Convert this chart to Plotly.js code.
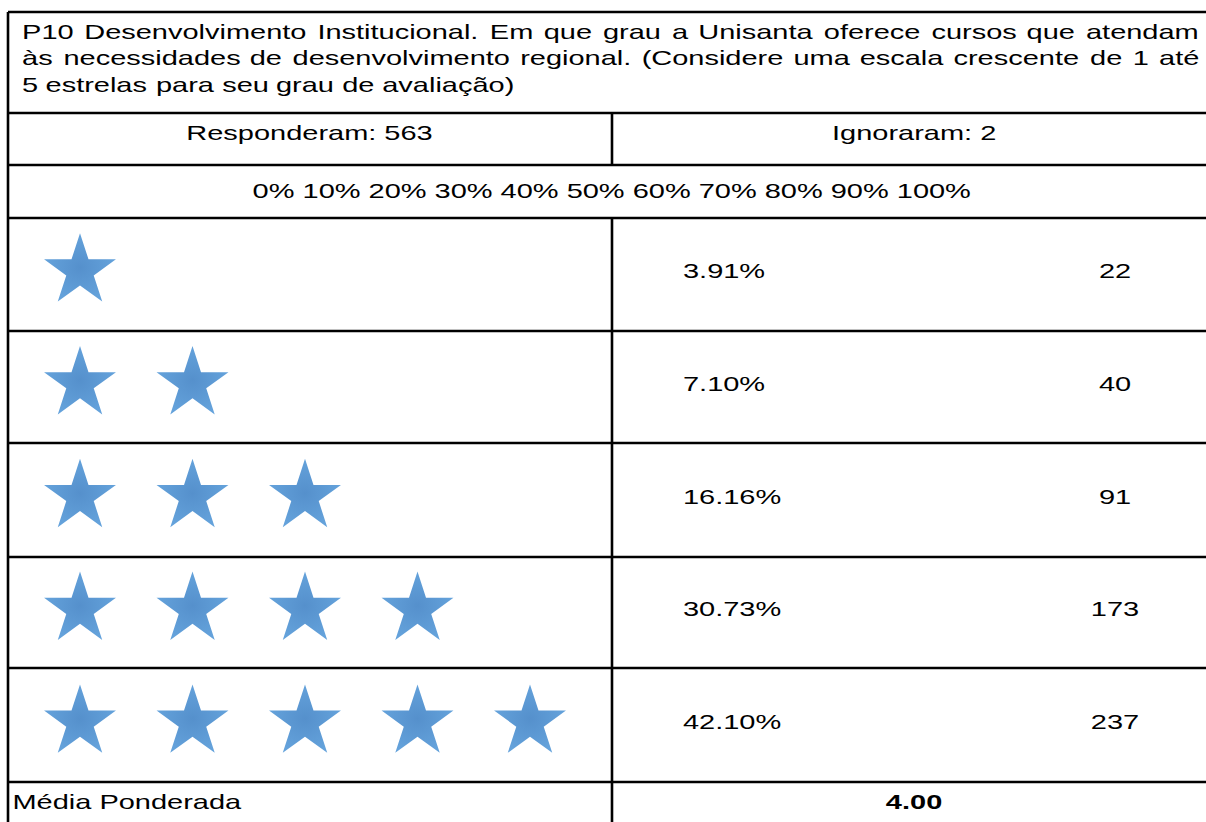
<!DOCTYPE html>
<html>
<head>
<meta charset="utf-8">
<script src="https://cdn.plot.ly/plotly-3.0.1.min.js"></script>
<style>
  body { margin: 0; background: #fff; }
  #wrap { position: relative; width: 1206px; height: 822px; overflow: hidden; background: #fff; }
  #tableChart { position: absolute; left: 0; top: 0; transform-origin: 0 0; }
  #starChart { position: absolute; left: 0; top: 0; pointer-events: none; }
</style>
</head>
<body>
<div id="wrap">
  <div id="tableChart"></div>
  <div id="starChart"></div>
</div>
<script>
// Survey answers
const ratings = [1, 2, 3, 4, 5];
const percentLabels = ["3.91%", "7.10%", "16.16%", "30.73%", "42.10%"];
const counts = [22, 40, 91, 173, 237];
const answered = 563;
const skipped = 2;
const weightedAvg = "4.00";
const scaleTicks = ["0%", "10%", "20%", "30%", "40%", "50%", "60%", "70%", "80%", "90%", "100%"];
const questionLines = [
    "P10 Desenvolvimento Institucional. Em que grau a Unisanta oferece cursos que atendam",
    "às necessidades de desenvolvimento regional. (Considere uma escala crescente de 1 até",
    "5 estrelas para seu grau de avaliação)"
];

const W = 1206, H = 822;
// the scan is wider than it is tall, so the table text comes out stretched
const innerW = 874;
const stretch = W / innerW;
const FONT = "Liberation Sans, Arial, sans-serif";
const fontSize = 21;

// table grid (screen px)
const tableLeft = 8, tableRight = 1216, colSplit = 612;
const rowEdges = [218, 331, 443, 557, 668, 782];
const lineW = 2.6;

const ctx = document.createElement("canvas").getContext("2d");
ctx.font = fontSize + "px 'Liberation Sans'";
function textW(t) { return ctx.measureText(t).width * stretch; }

function label(text, x, y, anchor) {
    return {
        text: text, x: x, y: y, xref: "x", yref: "y",
        xanchor: anchor, yanchor: "middle", showarrow: false,
        borderpad: 0, borderwidth: 0,
        font: { family: FONT, size: fontSize, color: "#000" }
    };
}

const annotations = [];

// question text, first lines justified
const headerY = [31, 57.5, 84];
const headerLeft = 22, headerRight = 1199;
questionLines.forEach((line, i) => {
    const words = line.split(" ");
    const widths = words.map(textW);
    const total = widths.reduce((a, b) => a + b, 0);
    const gap = i < questionLines.length - 1
        ? (headerRight - headerLeft - total) / (words.length - 1)
        : textW(" ");
    let x = headerLeft;
    words.forEach((w, j) => {
        annotations.push(label(w, x, headerY[i], "left"));
        x += widths[j] + gap;
    });
});

annotations.push(label("Responderam: " + answered, (tableLeft + colSplit) / 2, 132, "center"));
annotations.push(label("Ignoraram: " + skipped, (colSplit + tableRight) / 2, 132, "center"));
annotations.push(label(scaleTicks.join(" "), 612, 190, "center"));

annotations.push(label("Média Ponderada", 12, 801, "left"));
annotations.push(label("<b>" + weightedAvg + "</b>", (colSplit + tableRight) / 2, 801, "center"));

// grid lines
const shapes = [];
function hLine(y) {
    shapes.push({ type: "line", xref: "x", yref: "y", x0: tableLeft, x1: tableRight, y0: y, y1: y,
        line: { color: "#000", width: lineW } });
}
function vLine(x, y0, y1) {
    shapes.push({ type: "line", xref: "x", yref: "y", x0: x, x1: x, y0: y0, y1: y1,
        line: { color: "#000", width: lineW / stretch } });
}
[12, 113, 165].concat(rowEdges).forEach(hLine);
vLine(tableLeft, 12, H + 5);
vLine(colSplit, 113, 165);
vLine(colSplit, 218, H + 5);

const rowShift = 0.015;
const cellFont = { family: FONT, size: fontSize, color: "#000" };

const percentTrace = {
    x: ratings.map(() => 683),
    y: ratings,
    text: percentLabels,
    mode: "text",
    type: "scatter",
    xaxis: "x",
    yaxis: "y2",
    textposition: "middle right",
    textfont: cellFont,
    hoverinfo: "skip",
    cliponaxis: false
};

const countTrace = {
    x: ratings.map(() => 1115),
    y: ratings,
    text: counts.map(String),
    mode: "text",
    type: "scatter",
    xaxis: "x",
    yaxis: "y2",
    textposition: "middle center",
    textfont: cellFont,
    hoverinfo: "skip",
    cliponaxis: false
};

Plotly.newPlot("tableChart", [percentTrace, countTrace], {
    width: innerW,
    height: H,
    margin: { l: 0, r: 0, t: 0, b: 0 },
    paper_bgcolor: "#fff",
    plot_bgcolor: "#fff",
    showlegend: false,
    xaxis: { range: [0, W], visible: false, fixedrange: true },
    yaxis: { range: [H, 0], visible: false, fixedrange: true },
    yaxis2: {
        domain: [(H - rowEdges[5]) / H, (H - rowEdges[0]) / H],
        range: [5.5 + rowShift, 0.5 + rowShift],
        anchor: "x", visible: false, fixedrange: true
    },
    shapes: shapes,
    annotations: annotations
}, { staticPlot: true, displayModeBar: false });

document.getElementById("tableChart").style.transform = "scaleX(" + stretch + ")";

// stars: one per rating step
const starX = [], starY = [];
ratings.forEach(r => {
    for (let k = 1; k <= r; k++) { starX.push(k); starY.push(r); }
});

const starStart = 80, starStep = 112.5;
Plotly.newPlot("starChart", [{
    x: starX,
    y: starY,
    mode: "markers",
    type: "scatter",
    marker: {
        symbol: "star",
        size: 54,
        color: "#64a2db",
        gradient: { type: "radial", color: "#5590cc" },
        line: { width: 0 }
    },
    hoverinfo: "skip",
    cliponaxis: false
}], {
    width: W,
    height: H,
    margin: { l: tableLeft, r: W - colSplit, t: rowEdges[0], b: H - rowEdges[5] },
    paper_bgcolor: "rgba(0,0,0,0)",
    plot_bgcolor: "rgba(0,0,0,0)",
    showlegend: false,
    xaxis: {
        range: [1 - (starStart - tableLeft) / starStep, 1 + (colSplit - starStart) / starStep],
        visible: false, fixedrange: true
    },
    yaxis: { range: [5.5 + 0.03, 0.5 + 0.03], visible: false, fixedrange: true }
}, { staticPlot: true, displayModeBar: false });
</script>
</body>
</html>
